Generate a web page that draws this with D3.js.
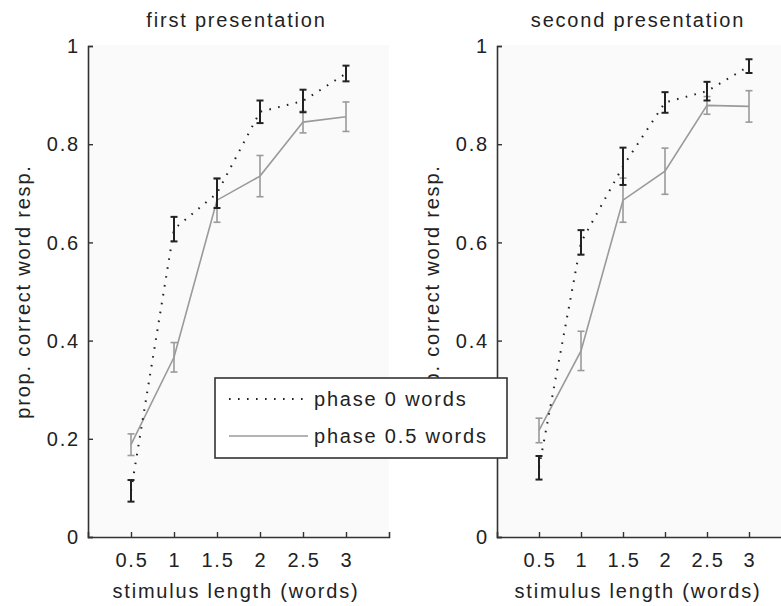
<html>
<head>
  <script src="https://d3js.org/d3.v7.min.js"></script>
  <title>prop. correct word resp.</title>
  <style>
    body { margin: 0; background: #fff; }
    text { font-family: "Liberation Sans", Arial, sans-serif; fill: #222; letter-spacing: 1.8px; }
  </style>
</head>
<body>
<div id="chart"></div>
<script type="text/javascript">

// stimulus length (words)
var lengths = [0.5, 1, 1.5, 2, 2.5, 3];

// first presentation
var first0    = [0.094, 0.627, 0.700, 0.866, 0.888, 0.944];
var first0Err = [0.022, 0.025, 0.030, 0.023, 0.023, 0.016];
var first5    = [0.188, 0.366, 0.686, 0.735, 0.845, 0.856];
var first5Err = [0.022, 0.030, 0.045, 0.042, 0.022, 0.030];

// second presentation
var second0    = [0.141, 0.600, 0.755, 0.885, 0.908, 0.959];
var second0Err = [0.024, 0.025, 0.038, 0.021, 0.019, 0.014];
var second5    = [0.217, 0.379, 0.686, 0.745, 0.879, 0.877];
var second5Err = [0.025, 0.040, 0.045, 0.047, 0.018, 0.032];

var xTicks = [0.5, 1, 1.5, 2, 2.5, 3];
var yTicks = [0, 0.2, 0.4, 0.6, 0.8, 1];
var titles = ["first presentation", "second presentation"];
var legendLabels = ["phase 0 words", "phase 0.5 words"];

var svg = d3.select("#chart").append("svg")
  .attr("width", 781)
  .attr("height", 606);

var panels = [
  { x0: 88,  x1: 389, title: titles[0], labelX: 236, s0: first0,  e0: first0Err,  s5: first5,  e5: first5Err },
  { x0: 497, x1: 791, title: titles[1], labelX: 638, s0: second0, e0: second0Err, s5: second5, e5: second5Err }
];

var yTop = 46, yBot = 537;
var y = d3.scaleLinear().domain([0, 1]).range([yBot, yTop]);

panels.forEach(function (p) {
  var x = d3.scaleLinear().domain([0, 3.5]).range([p.x0, p.x1]);
  var g = svg.append("g");

  // plot background
  g.append("rect")
    .attr("x", p.x0).attr("y", yTop - 1)
    .attr("width", p.x1 - p.x0).attr("height", yBot - yTop + 1)
    .attr("fill", "#fafafa");

  // axes, ticks pointing inward like matlab
  var yAxis = g.append("g").attr("transform", "translate(" + p.x0 + ",0)")
    .call(d3.axisRight(y).tickValues(yTicks).tickSize(5).tickFormat(""));
  var xAxis = g.append("g").attr("transform", "translate(0," + yBot + ")")
    .call(d3.axisTop(x).tickValues(xTicks).tickSize(5).tickFormat(""));
  [yAxis, xAxis].forEach(function (a) {
    a.select(".domain").attr("stroke", "#333").attr("stroke-width", 1.6);
    a.selectAll(".tick line").attr("stroke", "#333").attr("stroke-width", 1.4);
  });

  g.selectAll(".ylab").data(yTicks).enter().append("text")
    .attr("x", p.x0 - 8)
    .attr("y", function (d) { return y(d); })
    .attr("dy", "0.36em")
    .attr("text-anchor", "end")
    .style("font-size", "20px")
    .text(function (d) { return d3.format("~g")(d); });

  g.selectAll(".xlab").data(xTicks).enter().append("text")
    .attr("x", function (d) { return x(d) + 1; })
    .attr("y", 567)
    .attr("text-anchor", "middle")
    .style("font-size", "20px")
    .text(function (d) { return d3.format("~g")(d); });

  // titles and axis labels
  g.append("text")
    .attr("x", (p.x0 + p.x1) / 2 - 2 - (p.x0 > 400 ? 4 : 0)).attr("y", 27)
    .attr("text-anchor", "middle")
    .style("font-size", "20px")
    .text(p.title);

  g.append("text")
    .attr("x", p.labelX).attr("y", 598)
    .attr("text-anchor", "middle")
    .style("font-size", "20px")
    .text("stimulus length (words)");

  g.append("text")
    .attr("transform", "translate(" + (p.x0 - 58) + "," + ((yTop + yBot) / 2) + ") rotate(-90)")
    .attr("text-anchor", "middle")
    .style("font-size", "20px")
    .text("prop. correct word resp.");

  var line = d3.line()
    .x(function (d, i) { return x(lengths[i]); })
    .y(function (d) { return y(d); });

  function errorBars(vals, errs, color, width) {
    var eb = g.append("g").attr("stroke", color).attr("stroke-width", width).attr("fill", "none");
    vals.forEach(function (v, i) {
      var cx = x(lengths[i]);
      eb.append("line").attr("x1", cx).attr("x2", cx).attr("y1", y(v - errs[i])).attr("y2", y(v + errs[i]));
      eb.append("line").attr("x1", cx - 3.5).attr("x2", cx + 3.5).attr("y1", y(v - errs[i])).attr("y2", y(v - errs[i]));
      eb.append("line").attr("x1", cx - 3.5).attr("x2", cx + 3.5).attr("y1", y(v + errs[i])).attr("y2", y(v + errs[i]));
    });
  }

  // phase 0.5 words: grey solid
  g.append("path").datum(p.s5)
    .attr("d", line)
    .attr("fill", "none").attr("stroke", "#9a9a9a").attr("stroke-width", 1.6);
  errorBars(p.s5, p.e5, "#9a9a9a", 1.6);

  // phase 0 words: black dotted
  g.append("path").datum(p.s0)
    .attr("d", line)
    .attr("fill", "none").attr("stroke", "#222").attr("stroke-width", 2)
    .attr("stroke-dasharray", "1.6,7.4");
  errorBars(p.s0, p.e0, "#222", 2);
});

// legend on top of both panels
var leg = svg.append("g");
leg.append("rect")
  .attr("x", 215).attr("y", 378).attr("width", 292).attr("height", 80)
  .attr("fill", "#fff").attr("stroke", "#333").attr("stroke-width", 1.6);

var legStyles = [
  { color: "#222", dash: "1.6,7.4", width: 2 },
  { color: "#9a9a9a", dash: null, width: 1.6 }
];
legendLabels.forEach(function (lab, i) {
  var ly = 399 + i * 37;
  leg.append("line")
    .attr("x1", 229).attr("x2", 308).attr("y1", ly).attr("y2", ly)
    .attr("stroke", legStyles[i].color)
    .attr("stroke-width", legStyles[i].width)
    .attr("stroke-dasharray", legStyles[i].dash);
  leg.append("text")
    .attr("x", 314).attr("y", ly).attr("dy", "0.36em")
    .style("font-size", "20px")
    .text(lab);
});

</script>
</body>
</html>
